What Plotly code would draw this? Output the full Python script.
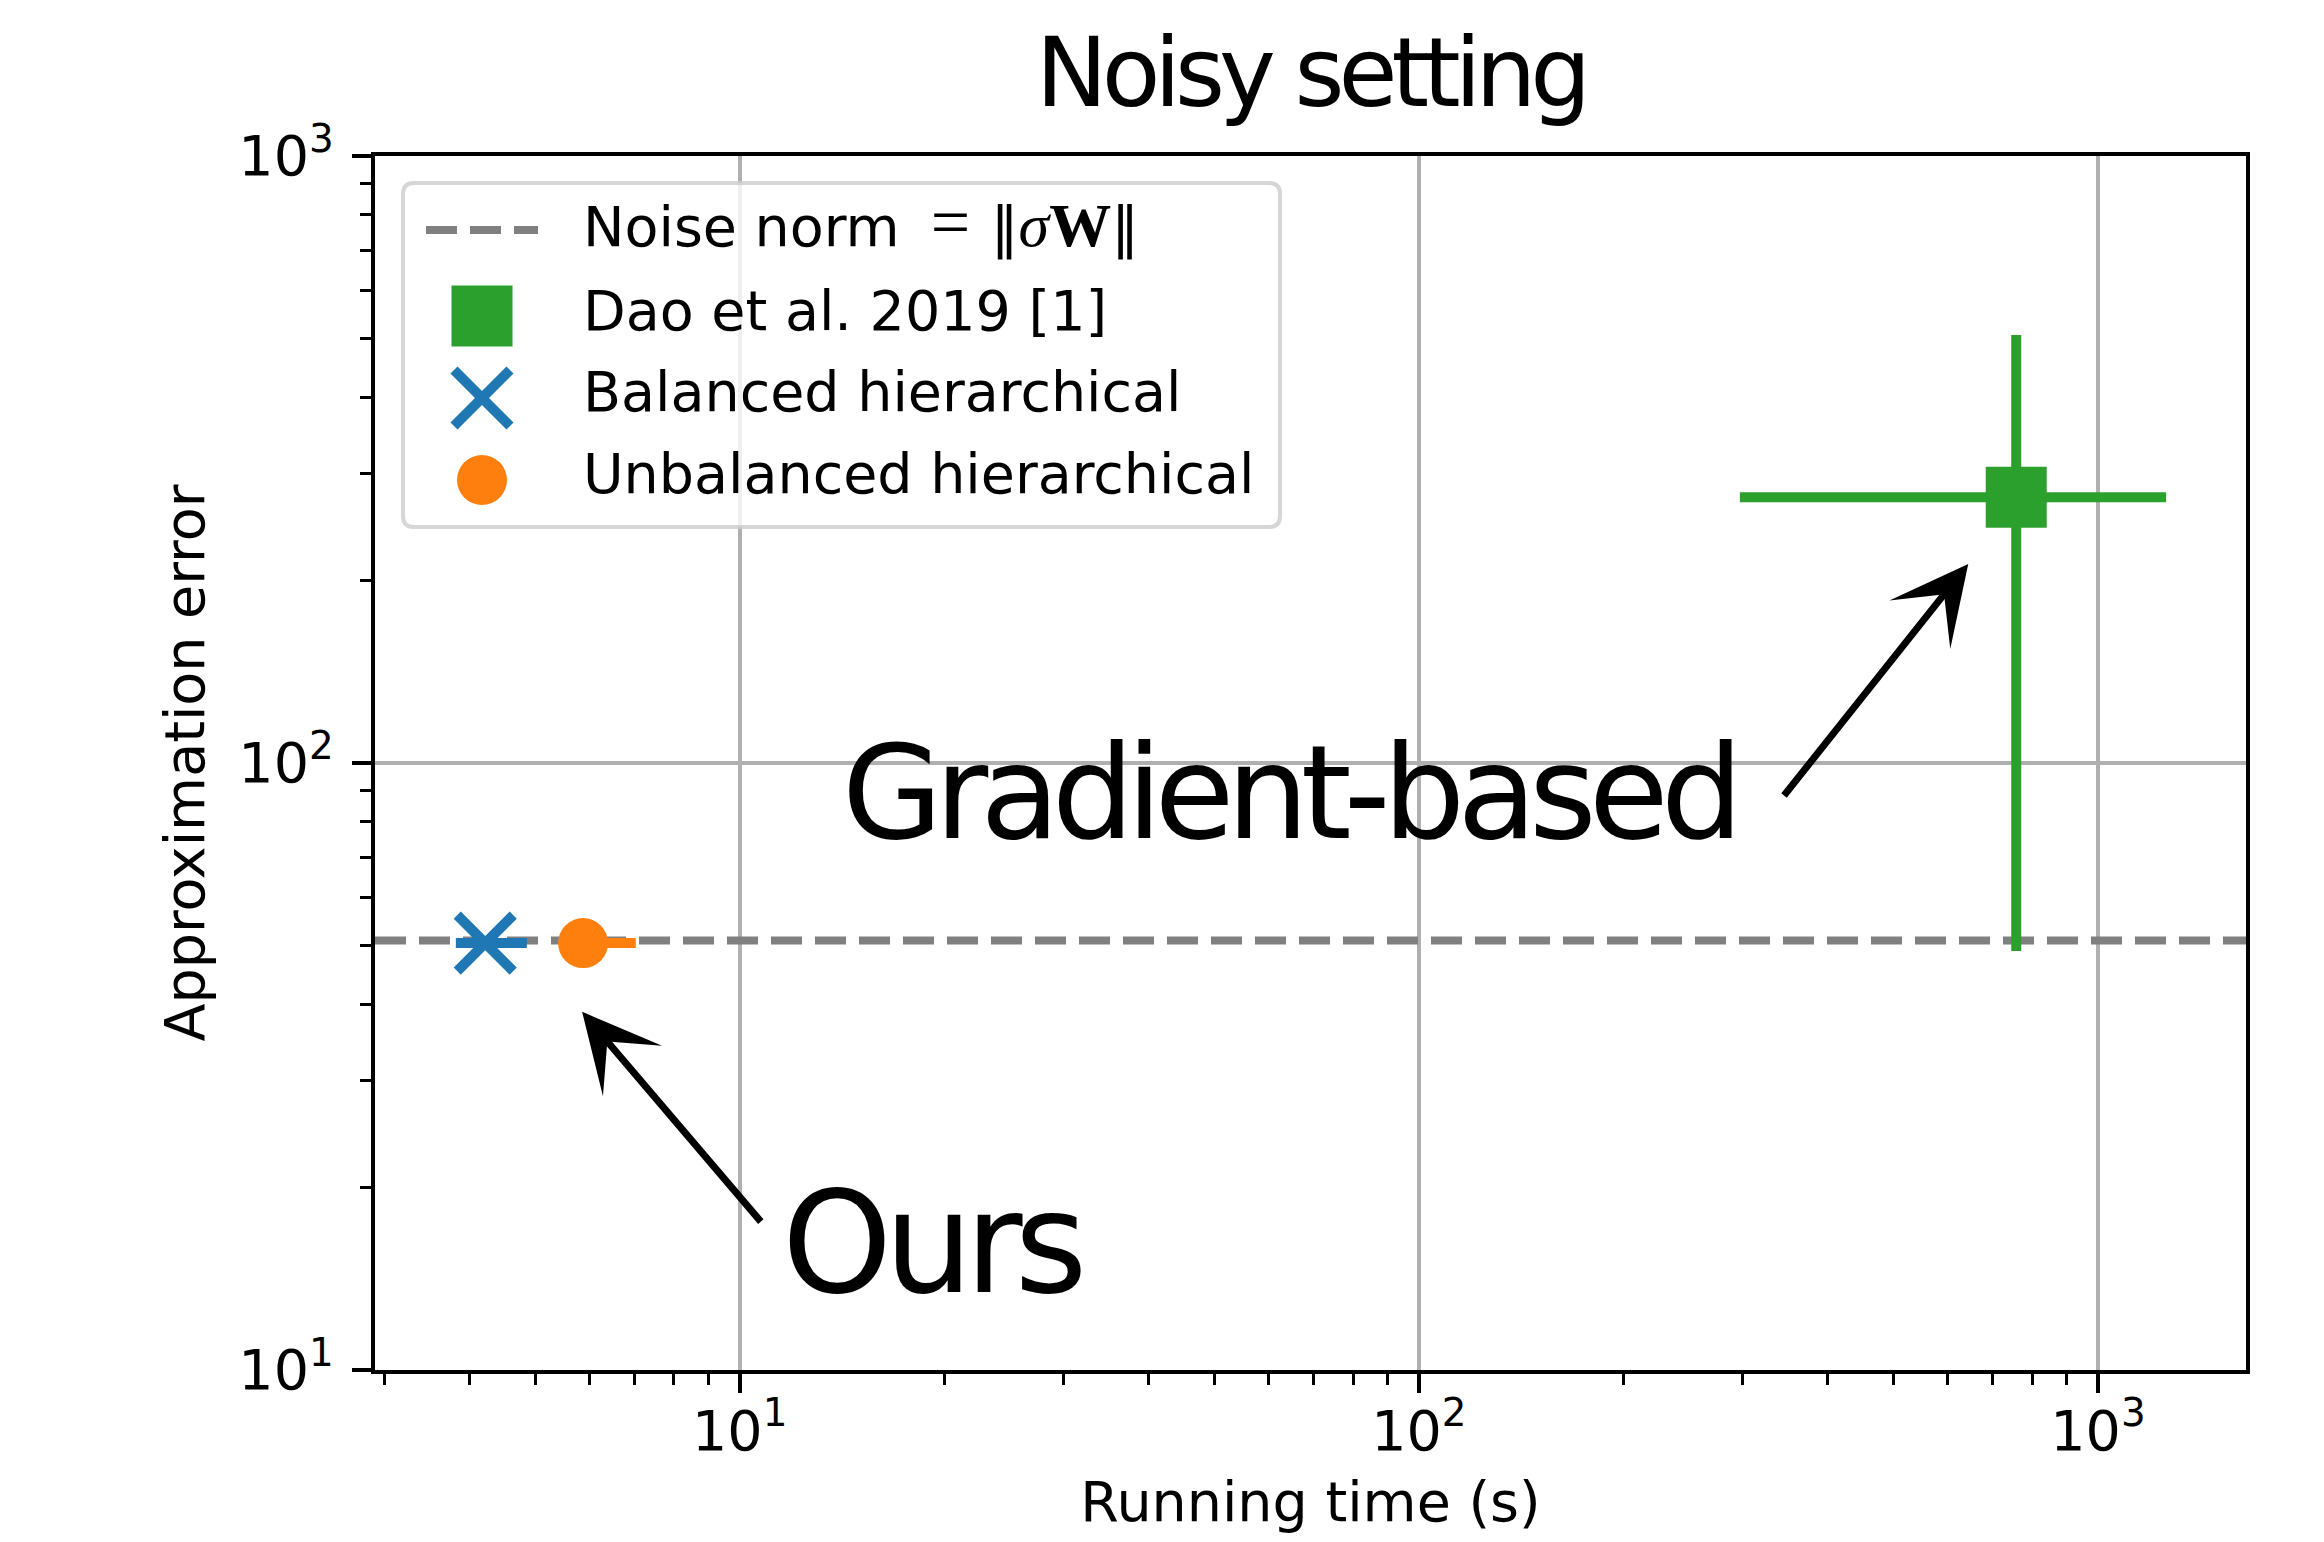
import plotly.graph_objects as go

# ---------------- data ----------------
methods = ["Dao et al. 2019 [1]", "Balanced hierarchical", "Unbalanced hierarchical"]
colors = ["#2ca02c", "#1f77b4", "#ff7f0e"]
symbols = ["square", "x-thin", "circle"]
time_mean = [758, 4.22, 5.88]
time_err_plus = [502, 0.64, 1.15]
time_err_minus = [461, 0.40, 0.35]
error_mean = [274, 50.5, 50.5]
error_err_plus = [233, 0, 0]
error_err_minus = [225, 0, 0]
noise_norm = 51.0
noise_label = "Noise norm"

major_ticks = [10, 100, 1000]
major_text = ["10<sup>1</sup>", "10<sup>2</sup>", "10<sup>3</sup>"]
minor_ticks = [m * 10 ** d for d in range(0, 4) for m in range(2, 10)]
x_log_range = [0.463, 3.218]
y_log_range = [1, 3]

# ---------------- layout constants ----------------
# the page body has an 8px margin, so the figure starts at (8, 8)
OFF = 8
W, H = 2324 - 2 * OFF, 1542 - 2 * OFF
PX0, PX1, PY0, PY1 = 375, 2246, 156, 1370          # plot area in page pixels
L, T = PX0 - OFF, PY0 - OFF
PW, PH = PX1 - PX0, PY1 - PY0
R, B = W - L - PW, H - T - PH
FS = 55.5
FONT = "DejaVu Sans"


def xp(px):
    return (px - PX0) / PW


def yp(py):
    return (PY1 - py) / PH


fig = go.Figure()

# noise norm reference line across the whole x range
fig.add_trace(go.Scatter(
    x=[10 ** x_log_range[0], 10 ** x_log_range[1]], y=[noise_norm, noise_norm],
    mode="lines", name=noise_label, showlegend=False, hoverinfo="skip",
    line=dict(color="#808080", width=8, dash="31px,13px")))

marker_sizes = [61, 56, 50]
for i, name in enumerate(methods):
    marker = dict(color=colors[i], size=marker_sizes[i], symbol=symbols[i],
                  line=dict(width=0))
    if symbols[i] == "x-thin":
        marker["line"] = dict(color=colors[i], width=10)
    fig.add_trace(go.Scatter(
        x=[time_mean[i]], y=[error_mean[i]], name=name, mode="markers",
        marker=marker,
        error_x=dict(type="data", symmetric=False, array=[time_err_plus[i]],
                     arrayminus=[time_err_minus[i]], color=colors[i],
                     thickness=10, width=0),
        error_y=dict(type="data", symmetric=False, array=[error_err_plus[i]],
                     arrayminus=[error_err_minus[i]], color=colors[i],
                     thickness=10, width=0, visible=error_err_plus[i] > 0),
        showlegend=False,
    ))

shapes = []
# ---------------- custom legend (matplotlib-like) ----------------
bx0, bx1, by0, by1, rad = 403, 1280, 183, 527, 11
xa, xb, yt, yb = xp(bx0), xp(bx1), yp(by0), yp(by1)
rx, ry = rad / PW, rad / PH
path = (f"M {xa+rx},{yt} L {xb-rx},{yt} Q {xb},{yt} {xb},{yt-ry} "
        f"L {xb},{yb+ry} Q {xb},{yb} {xb-rx},{yb} L {xa+rx},{yb} "
        f"Q {xa},{yb} {xa},{yb+ry} L {xa},{yt-ry} Q {xa},{yt} {xa+rx},{yt} Z")
shapes.append(dict(type="path", xref="paper", yref="paper", path=path,
                   fillcolor="rgba(255,255,255,0.8)", layer="above",
                   line=dict(color="rgba(204,204,204,0.8)", width=4)))

row_y = [230, 316, 398, 480]
hx = 482
shapes.append(dict(type="line", xref="paper", yref="paper", x0=xp(426), x1=xp(538),
                   y0=yp(row_y[0]), y1=yp(row_y[0]), layer="above",
                   line=dict(color="#808080", width=8, dash="31px,13px")))
s = 30.5
shapes.append(dict(type="rect", xref="paper", yref="paper", x0=xp(hx - s), x1=xp(hx + s),
                   y0=yp(row_y[1] + s), y1=yp(row_y[1] - s), layer="above",
                   fillcolor=colors[0], line=dict(width=0)))
a = 28
for sgn in (1, -1):
    shapes.append(dict(type="line", xref="paper", yref="paper",
                       x0=xp(hx - a), x1=xp(hx + a),
                       y0=yp(row_y[2] - sgn * a), y1=yp(row_y[2] + sgn * a), layer="above",
                       line=dict(color=colors[1], width=10)))
rr = 25
shapes.append(dict(type="circle", xref="paper", yref="paper", x0=xp(hx - rr), x1=xp(hx + rr),
                   y0=yp(row_y[3] + rr), y1=yp(row_y[3] - rr), layer="above",
                   fillcolor=colors[2], line=dict(width=0)))

serif = 'font-family:Liberation Serif;font-size:62px'
noise_math = (f'<span style="{serif}">\u2002<span style="font-size:70px">=</span>\u2004</span>‖'
              f'<span style="{serif}"><i>σ</i><b>W</b></span>‖')
legend_texts = [noise_label + noise_math] + methods
baselines = [249, 331, 412, 494]
annotations = []
for txt, bl in zip(legend_texts, baselines):
    annotations.append(dict(text=txt, xref="paper", yref="paper", x=xp(581),
                            y=yp(bl + 0.236 * FS + 1), xanchor="left", yanchor="bottom",
                            showarrow=False, font=dict(family=FONT, size=FS, color="black")))

# ---------------- big labels with arrows ----------------
GFS, OFS = 130, 140
annotations.append(dict(text='<span style="letter-spacing:-8px">Gradient-based</span>',
                        xref="paper", yref="paper", x=xp(840), y=yp(839 + 0.236 * GFS + 1),
                        xanchor="left", yanchor="bottom", showarrow=False,
                        font=dict(family=FONT, size=GFS, color="black")))
annotations.append(dict(text='<span style="letter-spacing:-8px">Ours</span>',
                        xref="paper", yref="paper", x=xp(780), y=yp(1293 + 0.236 * OFS + 1),
                        xanchor="left", yanchor="bottom", showarrow=False,
                        font=dict(family=FONT, size=OFS, color="black")))
arrows = [((2.809, 2.328), (2.536, 1.944)), ((0.768, 1.590), (1.033, 1.242))]
for (hxl, hyl), (txl, tyl) in arrows:
    annotations.append(dict(text="", x=hxl, y=hyl, ax=txl, ay=tyl, xref="x", yref="y",
                            axref="x", ayref="y", showarrow=True, arrowhead=3,
                            arrowwidth=7, arrowsize=1.85, arrowcolor="black", standoff=0))

axis_common = dict(type="log", showline=True, linecolor="black", linewidth=4.4, mirror=True,
                   ticks="outside", ticklen=19, tickwidth=4.4, tickcolor="black",
                   showgrid=True, gridcolor="#b0b0b0", gridwidth=4.4,
                   tickmode="array", tickvals=major_ticks, ticktext=major_text,
                   tickfont=dict(family=FONT, size=FS, color="black"),
                   minor=dict(ticks="outside", ticklen=11, tickwidth=3.3, tickcolor="black",
                              tickmode="array", tickvals=minor_ticks, showgrid=False),
                   zeroline=False, automargin=False)

fig.update_layout(
    width=W, height=H,
    margin=dict(l=L, r=R, t=T, b=B),
    paper_bgcolor="white", plot_bgcolor="white",
    font=dict(family=FONT, size=FS, color="black"),
    title=dict(text='<span style="letter-spacing:-6px">Noisy setting</span>',
               x=0.5, xref="paper", xanchor="center", y=1 - (106 - OFF) / H, yref="container",
               yanchor="bottom", font=dict(family=FONT, size=96, color="black")),
    xaxis=dict(axis_common, range=x_log_range, ticklabelstandoff=-10,
               title=dict(text="Running time (s)", font=dict(family=FONT, size=FS), standoff=33)),
    yaxis=dict(axis_common, range=y_log_range, ticklabelstandoff=7,
               title=dict(text="Approximation error", font=dict(family=FONT, size=FS), standoff=17)),
    shapes=shapes, annotations=annotations, showlegend=False,
)

fig.write_html("out.html")
